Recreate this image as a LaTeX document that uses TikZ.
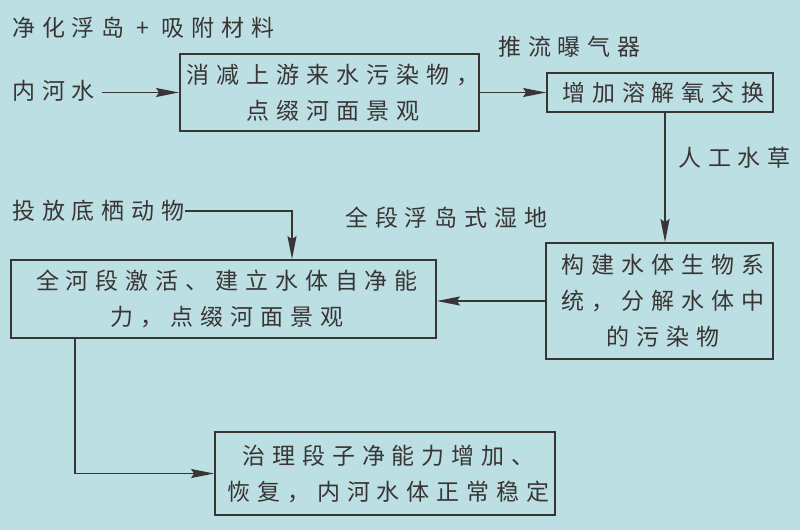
\documentclass[tikz,border=0pt]{standalone}
\usepackage{fontspec}
\setmainfont{Noto Sans CJK SC}[LetterSpace=30]
\usetikzlibrary{arrows.meta}
\definecolor{bg}{HTML}{BCDFE4}
\definecolor{ink}{HTML}{3A3535}
\begin{document}
\begin{tikzpicture}[x=1pt,y=-1pt,
  every node/.style={text=ink,font=\fontsize{23}{36}\selectfont},
  box/.style={draw=ink,line width=1.8pt,align=center,inner sep=0pt},
  lbl/.style={anchor=west,inner sep=0pt},
  arr/.style={draw=ink,line width=1.7pt,-{Stealth[length=23pt,width=9pt,inset=3pt]}},
  ln/.style={draw=ink,line width=1.7pt}]
\fill[bg] (0,0) rectangle (800,530);
\useasboundingbox (0,0) rectangle (800,530);
% boxes
\node[box,minimum width=299pt,minimum height=77pt] (b1) at (329.5,92.5) {\hspace*{7pt}消减上游来水污染物，\\\hspace*{7pt}点缀河面景观};
\node[box,minimum width=226pt,minimum height=39pt] (b2) at (660,92.5) {\hspace*{7pt}增加溶解氧交换};
\node[box,minimum width=227pt,minimum height=116pt] (b3) at (659.5,301) {\hspace*{7pt}构建水体生物系\\\hspace*{7pt}统，分解水体中\\\hspace*{7pt}的污染物};
\node[box,minimum width=425pt,minimum height=78pt] (b4) at (223.5,299) {\hspace*{7pt}全河段激活、建立水体自净能\\\hspace*{7pt}力，点缀河面景观};
\node[box,minimum width=340pt,minimum height=83pt] (b5) at (385,473.5) {\hspace*{7pt}治理段子净能力增加、\\\hspace*{7pt}恢复，内河水体正常稳定};
% labels
\node[lbl] (t0) at (12,28) {净化浮岛 + 吸附材料};
\node[lbl] (t1) at (12,91) {内河水};
\node[lbl] (t2) at (498,47) {推流曝气器};
\node[lbl] (t3) at (678,158) {人工水草};
\node[lbl] (t4) at (12,211) {投放底栖动物};
\node[lbl] (t5) at (345,218) {全段浮岛式湿地};
% helper coordinates
\coordinate (vx) at (665,0);
\coordinate (dx) at (292,0);
\coordinate (lx) at (75,0);
\coordinate (sx) at (102,0);
% connectors
\draw[arr] (sx |- b1.west) -- (b1.west);
\draw[arr] (b1.east) -- (b2.west);
\draw[arr] (b2.south -| vx) -- (b3.north -| vx);
\draw[arr] (b3.west) -- (b3.west -| b4.east);
\draw[arr] (t4.east) -| (b4.north -| dx);
\draw[arr] (b4.south -| lx) |- (b5.west);
\end{tikzpicture}
\end{document}
